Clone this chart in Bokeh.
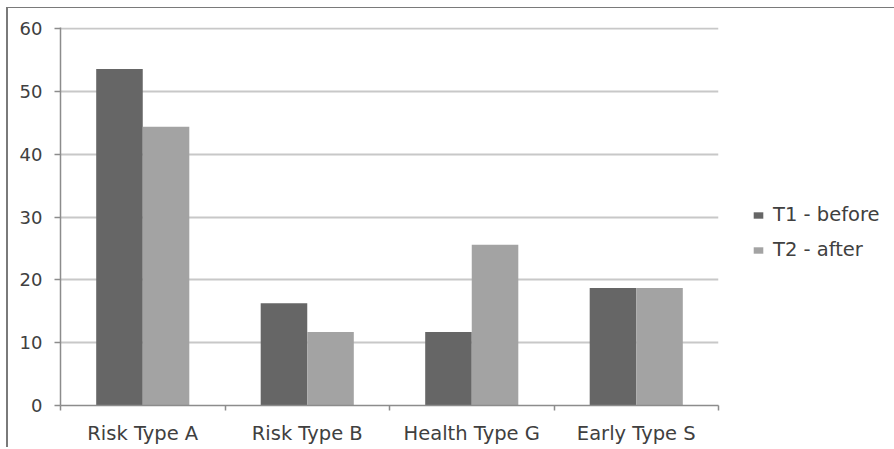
import numpy as np
from bokeh.plotting import figure
from bokeh.models import Range1d, FixedTicker, Legend, LegendItem, ColumnDataSource
from bokeh.embed import file_html
from bokeh.resources import INLINE

categories = ["Risk Type A", "Risk Type B", "Health Type G", "Early Type S"]
t1_before = [53.6, 16.3, 11.7, 18.7]
t2_after = [44.4, 11.7, 25.6, 18.7]
y_ticks = [0, 10, 20, 30, 40, 50, 60]
series_names = ["T1 - before", "T2 - after"]

idx = np.arange(len(categories))
bar_w = 0.283
src = ColumnDataSource(dict(
    x1=idx + 0.5 - bar_w / 2,
    x2=idx + 0.5 + bar_w / 2,
    t1=t1_before,
    t2=t2_after,
))

FONT = "DejaVu Sans"
TXT = "#404040"

p = figure(frame_width=658, frame_height=378, output_backend="svg", toolbar_location=None,
           x_range=Range1d(0, len(categories)), y_range=Range1d(0, 60.2),
           min_border_left=52, min_border_right=176, min_border_top=19,
           min_border_bottom=42)
p.styles = {"margin-left": "6px", "margin-top": "7px",
            "border-left": "2px solid #7a7a7a", "border-top": "1px solid #7a7a7a"}
p.outline_line_color = None
p.background_fill_color = "white"
p.border_fill_color = "white"

r1 = p.vbar(x="x1", top="t1", width=bar_w, source=src, fill_color="#666666",
            line_color=None)
r2 = p.vbar(x="x2", top="t2", width=bar_w, source=src, fill_color="#a3a3a3",
            line_color=None)
# empty spacer entry for the legend (no data, invisible)
r0 = p.vbar(x=[], top=[], width=bar_w, fill_alpha=0, line_alpha=0)

# x axis
xa = p.xaxis[0]
xa.ticker = FixedTicker(ticks=list(idx + 0.5), minor_ticks=list(range(len(categories) + 1)))
xa.major_label_overrides = {float(i + 0.5): c for i, c in enumerate(categories)}
xa.major_tick_line_color = None
xa.minor_tick_line_color = "#8c8c8c"
xa.minor_tick_out = 5
xa.minor_tick_in = 0
xa.minor_tick_line_width = 1.5
xa.axis_line_color = "#8c8c8c"
xa.axis_line_width = 1.5
xa.major_label_text_font = FONT
xa.major_label_text_font_size = "19.5px"
xa.major_label_text_color = TXT
xa.major_label_standoff = 10

# y axis
ya = p.yaxis[0]
ya.ticker = FixedTicker(ticks=y_ticks)
ya.minor_tick_line_color = None
ya.major_tick_out = 6
ya.major_tick_in = 0
ya.major_tick_line_color = "#8c8c8c"
ya.major_tick_line_width = 1.5
ya.axis_line_color = "#8c8c8c"
ya.axis_line_width = 1.5
ya.major_label_text_font = FONT
ya.major_label_text_font_size = "18px"
ya.major_label_text_color = TXT
ya.major_label_standoff = 12

p.xgrid.grid_line_color = None
p.ygrid.ticker = FixedTicker(ticks=y_ticks[1:])
p.ygrid.grid_line_color = "#c8c8c8"
p.ygrid.grid_line_width = 2

legend = Legend(items=[LegendItem(label=" ", renderers=[r0]),
                       LegendItem(label=series_names[0], renderers=[r1]),
                       LegendItem(label=series_names[1], renderers=[r2])],
                location="center_left", margin=34, padding=0, spacing=12,
                title=" ", title_text_font_size="11px", title_standoff=0,
                glyph_width=12, glyph_height=8, label_standoff=9,
                label_text_font=FONT, label_text_font_size="19.5px",
                label_text_color=TXT, border_line_color=None,
                background_fill_alpha=0)
p.add_layout(legend, "right")

open("out.html", "w").write(file_html(p, INLINE))
